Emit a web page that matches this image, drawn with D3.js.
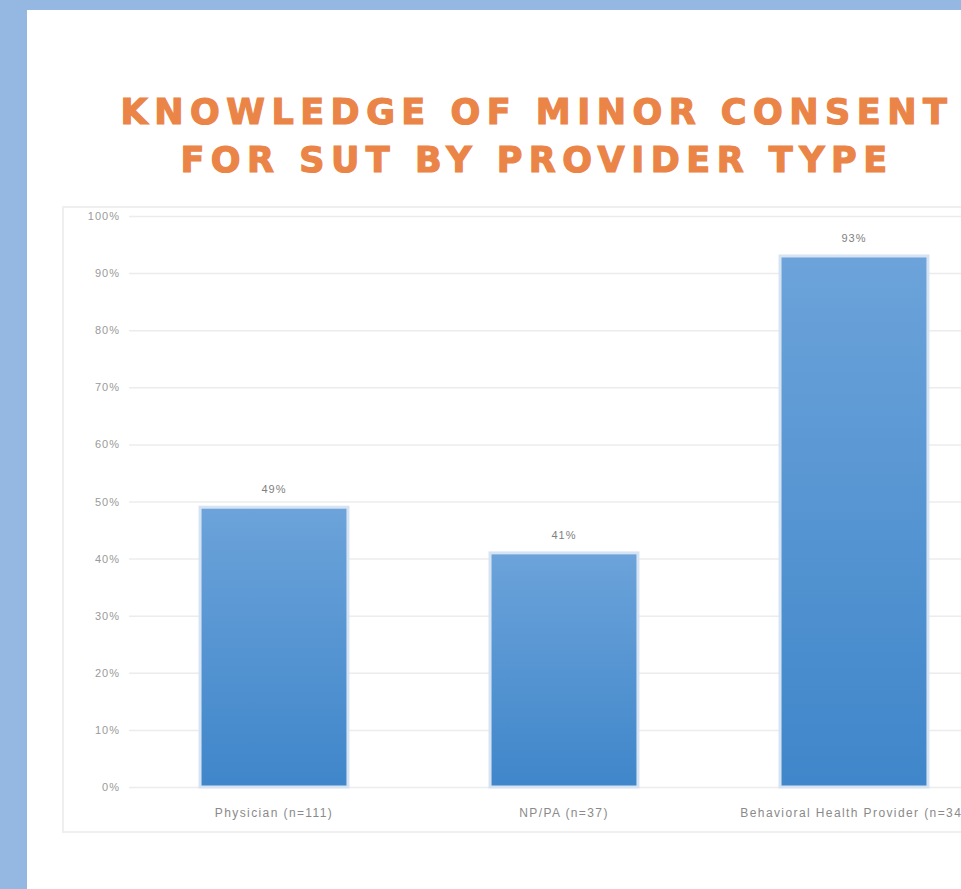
<!DOCTYPE html>
<html>
<head>
<meta charset="utf-8">
<script src="https://cdn.jsdelivr.net/npm/d3@7"></script>
<style>
  body { margin: 0; background: #94b8e2; }
  svg { display: block; }
</style>
</head>
<body>
<div id="chart"></div>
<script>
// data
var categories = ["Physician (n=111)", "NP/PA (n=37)", "Behavioral Health Provider (n=34)"];
var values = [49, 41, 93];
var yTicks = [0, 10, 20, 30, 40, 50, 60, 70, 80, 90, 100];
var titleLines = ["KNOWLEDGE OF MINOR CONSENT", "FOR SUT BY PROVIDER TYPE"];

var W = 961, H = 889;

var svg = d3
  .select("#chart")
  .append("svg")
  .attr("width", W)
  .attr("height", H);

// blue slide background
svg.append("rect").attr("width", W).attr("height", H).attr("fill", "#94b8e2");

// white panel
svg
  .append("rect")
  .attr("x", 27)
  .attr("y", 10)
  .attr("width", W - 27)
  .attr("height", H - 10)
  .attr("fill", "#ffffff");

// title
svg
  .selectAll(".title")
  .data(titleLines)
  .enter()
  .append("text")
  .attr("class", "title")
  .attr("x", 537)
  .attr("y", (d, i) => 124 + i * 48)
  .attr("text-anchor", "middle")
  .attr("fill", "#ea8447")
  .attr("stroke", "#ea8447")
  .attr("stroke-width", 1.2)
  .style("font-family", "'DejaVu Sans', sans-serif")
  .style("font-weight", "bold")
  .style("font-size", "35px")
  .style("letter-spacing", "6.5px")
  .text((d) => d);

// chart frame
svg
  .append("rect")
  .attr("x", 63)
  .attr("y", 207)
  .attr("width", W)
  .attr("height", 625)
  .attr("fill", "#ffffff")
  .attr("stroke", "#efefef")
  .attr("stroke-width", 2);

// scales
var x = d3.scaleBand().domain(categories).range([129, 999]).paddingInner(0.49).paddingOuter(0.245);
var y = d3.scaleLinear().domain([0, 100]).range([787, 216]);

// y axis + gridlines
var yAxis = svg
  .append("g")
  .attr("transform", "translate(129,0)")
  .call(
    d3
      .axisLeft(y)
      .tickValues(yTicks)
      .tickSize(-(W - 129))
      .tickPadding(9)
      .tickFormat((d) => d + "%")
  );
yAxis.select(".domain").remove();
yAxis.selectAll(".tick line").attr("stroke", "#ececec").attr("stroke-width", 1.5);
yAxis
  .selectAll(".tick text")
  .attr("fill", "#9a9a9a")
  .style("font-family", "'Liberation Sans', sans-serif")
  .style("font-size", "11px")
  .style("letter-spacing", "1px");

// gradient
var defs = svg.append("defs");
var grad = defs
  .append("linearGradient")
  .attr("id", "barGrad")
  .attr("x1", 0)
  .attr("y1", 0)
  .attr("x2", 0)
  .attr("y2", 1);
grad.append("stop").attr("offset", "0%").attr("stop-color", "#6ca3da");
grad.append("stop").attr("offset", "100%").attr("stop-color", "#3f86ca");

// bars
svg
  .selectAll(".bar")
  .data(values)
  .enter()
  .append("rect")
  .attr("class", "bar")
  .attr("x", (d, i) => x(categories[i]))
  .attr("y", (d) => y(d))
  .attr("width", x.bandwidth())
  .attr("height", (d) => y(0) - y(d))
  .attr("fill", "url(#barGrad)")
  .attr("stroke", "#d6e3f2")
  .attr("stroke-width", 3);

// value labels
svg
  .selectAll(".val")
  .data(values)
  .enter()
  .append("text")
  .attr("class", "val")
  .attr("x", (d, i) => x(categories[i]) + x.bandwidth() / 2)
  .attr("y", (d) => y(d) - 14)
  .attr("text-anchor", "middle")
  .attr("fill", "#808080")
  .style("font-family", "'Liberation Sans', sans-serif")
  .style("font-size", "11px")
  .style("letter-spacing", "1px")
  .text((d) => d + "%");

// x labels
svg
  .selectAll(".cat")
  .data(categories)
  .enter()
  .append("text")
  .attr("class", "cat")
  .attr("x", (d) => x(d) + x.bandwidth() / 2)
  .attr("y", 817)
  .attr("text-anchor", "middle")
  .attr("fill", "#8a8a8a")
  .style("font-family", "'Liberation Sans', sans-serif")
  .style("font-size", "12px")
  .style("letter-spacing", "1.4px")
  .text((d) => d);
</script>
</body>
</html>
